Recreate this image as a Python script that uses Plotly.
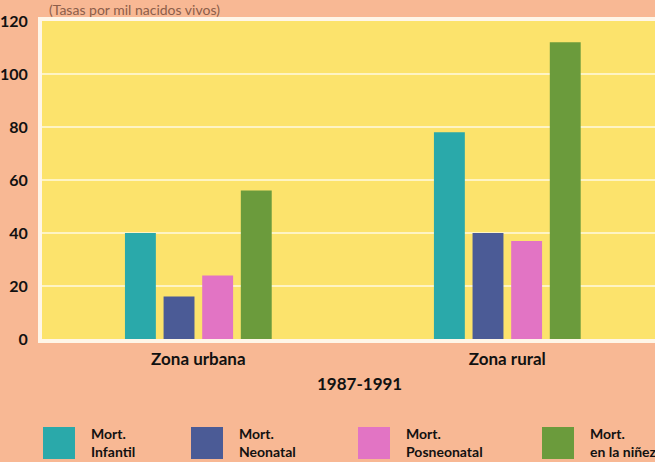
import plotly.graph_objects as go

# Tasas de mortalidad por zona, 1987-1991
zonas = ["Zona urbana", "Zona rural"]
series = ["Mort.<br>Infantil", "Mort.<br>Neonatal", "Mort.<br>Posneonatal", "Mort.<br>en la niñez"]
infantil = [40, 78]
neonatal = [16, 40]
posneonatal = [24, 37]
ninez = [56, 112]
colores = ["#2aa9aa", "#4b5b96", "#e274c4", "#6b9b3c"]
y_ticks = [0, 20, 40, 60, 80, 100, 120]
periodo = "1987-1991"

valores = [infantil, neonatal, posneonatal, ninez]
xpos = list(range(len(zonas)))

W, H = 655, 462
ML, MT, MB = 42, 21, 123
PW, PH = W - ML, H - MT - MB


def px_x(px):
    return (px - ML) / PW


def px_y(py):
    return -(py - (MT + PH)) / PH


fig = go.Figure()
for nombre, vals, col in zip(series, valores, colores):
    fig.add_trace(go.Bar(x=xpos, y=vals, name=nombre, marker=dict(color=col, line=dict(width=0)),
                         showlegend=False))

bold = "Lato, 'Open Sans', sans-serif"
fig.update_layout(
    width=W, height=H,
    margin=dict(l=ML, r=0, t=MT, b=MB, autoexpand=False),
    paper_bgcolor="#f8b894",
    plot_bgcolor="#fce36c",
    barmode="group",
    bargap=0.5,
    bargroupgap=0.2,
    font=dict(family=bold, color="#111111"),
    xaxis=dict(
        range=[-0.506, 1.478], tickvals=xpos, ticktext=["<b>%s</b>" % z for z in zonas],
        tickfont=dict(size=17, family=bold), showgrid=False, zeroline=False,
        showline=True, linecolor="#fff6e8", linewidth=4, mirror=True, ticks="",
        ticklabelstandoff=2,
    ),
    yaxis=dict(
        range=[0, 120], tickvals=y_ticks, ticktext=["<b>%d</b>" % v for v in y_ticks],
        tickfont=dict(size=16, family=bold), showgrid=True, gridcolor="rgba(255,250,225,0.75)",
        gridwidth=1.5, zeroline=False, showline=True, linecolor="#fff6e8", linewidth=4,
        ticks="", ticklabelstandoff=7,
    ),
)

# Título del eje x (periodo)
fig.add_annotation(text="<b>%s</b>" % periodo, xref="paper", yref="paper",
                   x=px_x(359), y=px_y(383), xanchor="center", yanchor="middle",
                   showarrow=False, font=dict(size=17, family=bold, color="#111111"))

# Unidad de medida sobre el área de trazado
fig.add_annotation(text="(Tasas por mil nacidos vivos)", xref="paper", yref="paper",
                   x=px_x(47), y=px_y(9), xanchor="left", yanchor="middle",
                   showarrow=False, font=dict(size=14, color="#8c5e4a", family=bold))

# Leyenda dibujada con cuadros y texto
leg_x = [43, 191, 358, 542]
for lx, nombre, col in zip(leg_x, series, colores):
    fig.add_shape(type="rect", xref="paper", yref="paper",
                  x0=px_x(lx), x1=px_x(lx + 32), y0=px_y(459), y1=px_y(427),
                  fillcolor=col, line=dict(width=0))
    fig.add_annotation(text="<b>%s</b>" % nombre, xref="paper", yref="paper",
                       x=px_x(lx + 46), y=px_y(442),
                       xanchor="left", yanchor="middle", align="left", showarrow=False,
                       font=dict(size=14, color="#111111", family=bold))

fig.write_html("out.html")
